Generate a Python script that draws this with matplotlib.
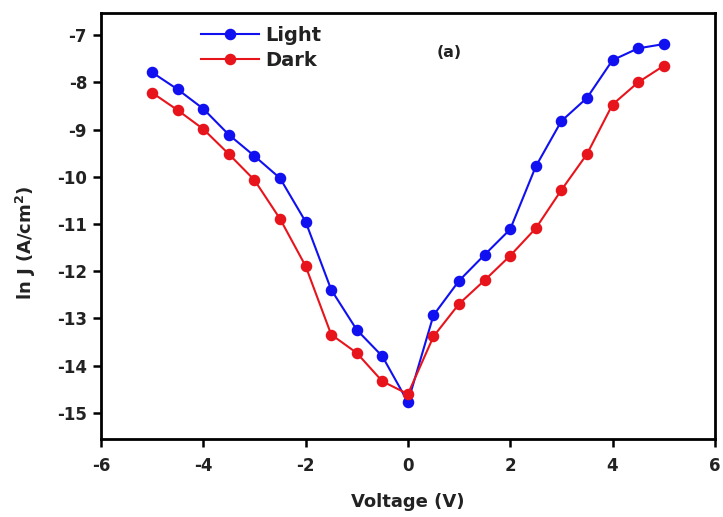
import matplotlib
matplotlib.use("Agg")
import matplotlib.pyplot as plt

plt.rcParams['font.family'] = ['DejaVu Sans']
plt.rcParams['font.weight'] = 'bold'

voltage = [-5, -4.5, -4, -3.5, -3, -2.5, -2, -1.5, -1, -0.5, 0,
           0.5, 1, 1.5, 2, 2.5, 3, 3.5, 4, 4.5, 5]
light = [-7.79, -8.15, -8.56, -9.11, -9.56, -10.03, -10.95, -12.39, -13.24, -13.80, -14.77,
         -12.93, -12.20, -11.65, -11.11, -9.78, -8.82, -8.33, -7.53, -7.28, -7.19]
dark = [-8.22, -8.59, -8.99, -9.52, -10.07, -10.89, -11.89, -13.34, -13.73, -14.33, -14.60,
        -13.38, -12.69, -12.19, -11.67, -11.09, -10.28, -9.52, -8.47, -8.00, -7.65]

xticks = [-6, -4, -2, 0, 2, 4, 6]
yticks = [-15, -14, -13, -12, -11, -10, -9, -8, -7]

fig = plt.figure(figsize=(7.23, 5.17), dpi=100)
ax = fig.add_axes([0.1397, 0.151, 0.849, 0.824])

ax.plot(voltage, light, '-o', color='#1010f0', lw=1.5, ms=7.3, label='Light')
ax.plot(voltage, dark, '-o', color='#e8141c', lw=1.5, ms=7.3, label='Dark')

ax.set_xlim(-6, 6)
ax.set_ylim(-15.55, -6.53)
ax.set_xticks(xticks)
ax.set_yticks(yticks)
ax.set_xticklabels([str(t) for t in xticks])
ax.set_yticklabels([str(t) for t in yticks])
ax.tick_params(direction='out', length=6, width=1.8, labelsize=12, pad=4,
               labelcolor='#222222')
ax.tick_params(axis='x', pad=7)
for s in ax.spines.values():
    s.set_linewidth(2)

ax.set_xlabel('Voltage (V)', fontsize=13, fontweight='bold', labelpad=13, color='#222222')
ax.set_ylabel('ln J (A/cm$^\\mathbf{2}$)', fontsize=13, fontweight='bold',
              color='#222222')
ax.yaxis.set_label_coords(-0.103, 0.46)

ax.text(0.568, 0.908, '(a)', transform=ax.transAxes, fontsize=11.3, fontweight='bold',
        ha='center', va='center', color='#222222')

leg = ax.legend(loc='upper left', bbox_to_anchor=(0.142, 1.0), frameon=False,
                fontsize=14, handlelength=3.0, handletextpad=0.3, labelspacing=0.32,
                borderaxespad=0.25)
for t in leg.get_texts():
    t.set_color('#222222')

fig.savefig('out.png', dpi=100)
